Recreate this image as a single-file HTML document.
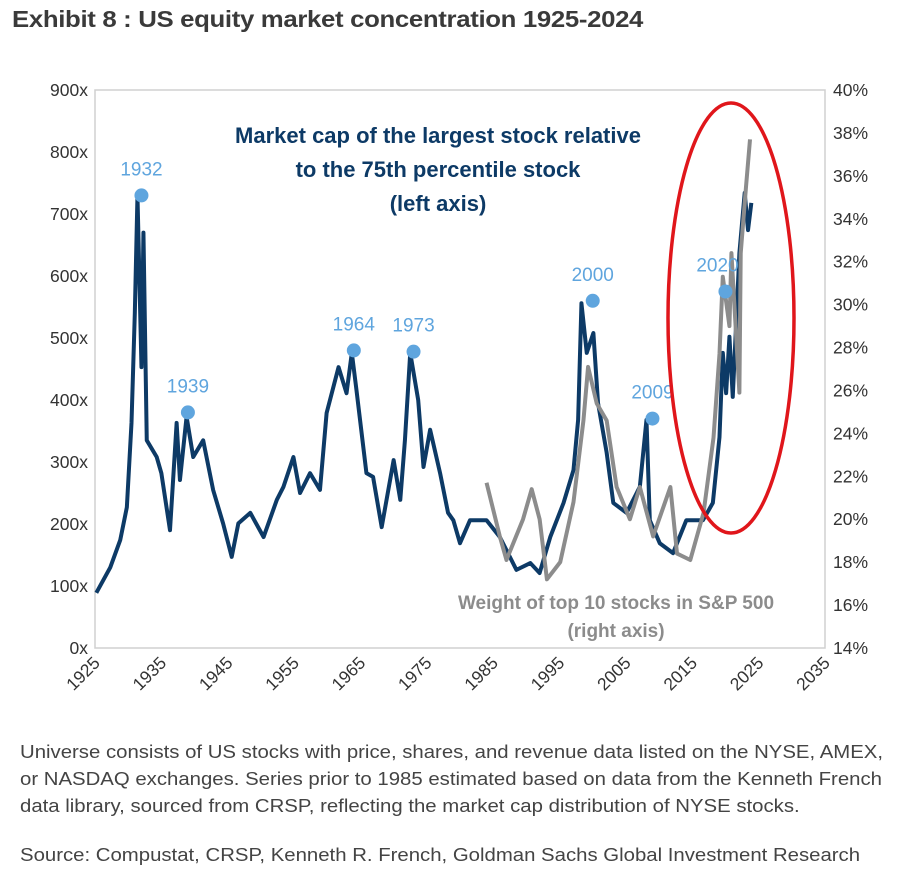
<!DOCTYPE html>
<html><head><meta charset="utf-8">
<style>
body{margin:0;background:#fff;width:924px;height:883px;overflow:hidden;font-family:"Liberation Sans",sans-serif;}
#title{position:absolute;left:12px;top:6px;font-size:23px;font-weight:bold;color:#3a3a3a;letter-spacing:-0.3px;transform:scaleX(1.12);transform-origin:left;white-space:nowrap;}
.note{position:absolute;left:20px;font-size:18.5px;color:#444;line-height:27px;transform:scaleX(1.1);transform-origin:left;white-space:nowrap;}
</style></head><body>
<div id="title">Exhibit 8 : US equity market concentration 1925-2024</div>
<svg id="chart" width="924" height="730" style="position:absolute;left:0;top:0"></svg>
<div class="note" style="top:738px">Universe consists of US stocks with price, shares, and revenue data listed on the NYSE, AMEX,<br>or NASDAQ exchanges. Series prior to 1985 estimated based on data from the Kenneth French<br>data library, sourced from CRSP, reflecting the market cap distribution of NYSE stocks.</div>
<div class="note" style="top:841px">Source: Compustat, CRSP, Kenneth R. French, Goldman Sachs Global Investment Research</div>
<script>
const leftTicks=["0x","100x","200x","300x","400x","500x","600x","700x","800x","900x"];
const leftTickVals=[0,100,200,300,400,500,600,700,800,900];
const rightTicks=["14%","16%","18%","20%","22%","24%","26%","28%","30%","32%","34%","36%","38%","40%"];
const rightTickVals=[14,16,18,20,22,24,26,28,30,32,34,36,38,40];
const xTicks=[1925,1935,1945,1955,1965,1975,1985,1995,2005,2015,2025,2035];
const blueYears=[1925.2,1927.3,1928.8,1929.8,1930.5,1931.0,1931.4,1932.0,1932.3,1932.8,1934.3,1935,1936.3,1937.3,1937.8,1938.8,1939.8,1941.3,1942.8,1944.3,1945.6,1946.6,1948.4,1950.4,1952.4,1953.4,1954.9,1955.9,1957.4,1958.9,1959.9,1961.7,1962.9,1963.7,1964.4,1965.9,1966.9,1968.2,1970.0,1971,1971.7,1972.5,1973.7,1974.5,1975.5,1977,1978.2,1979,1980,1981.5,1984,1986,1988.5,1990.6,1992,1993.6,1995.6,1997.1,1997.8,1998.3,1999.1,2000.1,2000.8,2002.1,2003.1,2005.1,2007.1,2008.1,2008.6,2010.1,2012.1,2014.1,2016.6,2018.1,2019.1,2019.6,2020.1,2020.6,2021.1,2022.1,2022.9,2023.4,2023.9];
const blueVals=[89,130,174,227,363,540,730,453,670,335,308,282,190,363,271,373,308,335,255,201,147,201,218,179,239,260,308,250,282,255,379,453,411,476,416,282,276,195,303,239,335,476,400,292,352,282,218,206,169,206,206,179,126,137,121,179,234,287,368,556,476,508,395,315,234,218,260,368,206,169,153,206,206,234,340,476,411,502,405,637,734,674,718];
const grayYears=[1984,1986,1987,1989.5,1990.8,1992,1993.1,1995.1,1997.1,1998.6,1999.3,2000.6,2002.1,2003.6,2005.6,2007.1,2009.1,2011.7,2012.7,2014.7,2016.7,2018.2,2019.1,2019.6,2020.6,2020.9,2022.1,2022.3,2023.1,2023.7];
const grayVals=[21.7,19.2,18.1,20.0,21.4,20.0,17.2,18.0,20.8,24.6,27.1,25.4,24.6,21.5,20.0,21.5,19.2,21.5,18.4,18.1,20.3,23.8,27.7,31.3,29.0,32.4,25.9,32.4,35.5,37.7];
const peakYears=[1932,1939,1964,1973,2000,2009,2020];
const peakVals=[730,380,480,478,560,370,575];

const X0=95,X1=825,Y0=648,Y1=90;
const xs=y=>X0+(y-1925)/(2035-1925)*(X1-X0);
const yl=v=>Y0-v/900*(Y0-Y1);
const yr=v=>Y0-(v-14)/26*(Y0-Y1);
const svg=document.getElementById('chart');
const NS='http://www.w3.org/2000/svg';
function mk(t,a,txt){const e=document.createElementNS(NS,t);for(const k in a)e.setAttribute(k,a[k]);if(txt!==undefined)e.textContent=txt;svg.appendChild(e);return e;}
let e;
e=mk('rect',{x:X0,y:Y1,width:X1-X0,height:Y0-Y1,fill:'none',stroke:'#d0d0d0','stroke-width':1.5});


leftTicks.forEach((t,i)=>{e=mk('text',{x:88,y:yl(leftTickVals[i])+6,'text-anchor':'end','font-size':17.5,fill:'#333'},t);

});
rightTicks.forEach((t,i)=>{e=mk('text',{x:833,y:yr(rightTickVals[i])+6,'font-size':17.5,fill:'#333'},t);

});
xTicks.forEach(t=>{const x=xs(t);e=mk('text',{x:x+6,y:664,'text-anchor':'end','font-size':17.5,fill:'#333',transform:`rotate(-45 ${x+6} 664)`},String(t));

});
e=mk('polyline',{points:blueYears.map((y,i)=>xs(y)+','+yl(blueVals[i])).join(' '),fill:'none',stroke:'#0d3a66','stroke-width':4,'stroke-linejoin':'round'});


e=mk('polyline',{points:grayYears.map((y,i)=>xs(y)+','+yr(grayVals[i])).join(' '),fill:'none',stroke:'#8c8c8c','stroke-width':4,'stroke-linejoin':'round'});


peakYears.forEach((y,i)=>{const cx=xs(y),cy=yl(peakVals[i]);
e=mk('circle',{cx:cx,cy:cy,r:7,fill:'#5fa5de'});


e=mk('text',{x:cx-(y===2020?8:0),y:cy-20,'text-anchor':'middle','font-size':19,fill:'#5fa5de'},String(y));

});
[["Market cap of the largest stock relative",143],["to the 75th percentile stock",177],["(left axis)",211]].forEach(a=>{e=mk('text',{x:438,y:a[1],'text-anchor':'middle','font-size':22,'font-weight':'bold',fill:'#0d3a66'},a[0]);

});
[["Weight of top 10 stocks in S&P 500",609],["(right axis)",637]].forEach(a=>{e=mk('text',{x:616,y:a[1],'text-anchor':'middle','font-size':19,'font-weight':'bold',fill:'#8c8c8c'},a[0]);

});
e=mk('ellipse',{cx:731,cy:318,rx:63,ry:215,fill:'none',stroke:'#e0161b','stroke-width':3.5});


</script>
</body></html>
